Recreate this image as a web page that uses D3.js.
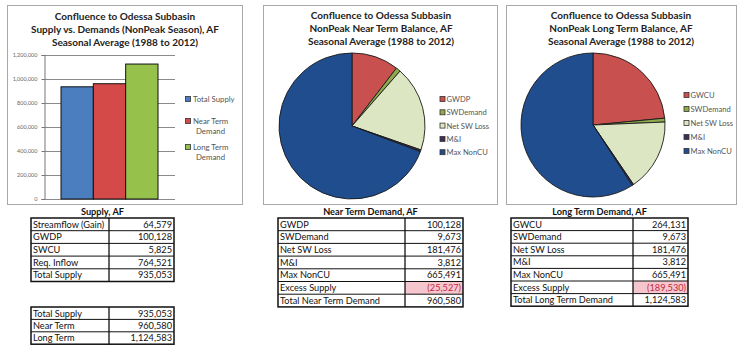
<!DOCTYPE html>
<html>
<head>
<meta charset="utf-8">
<script src="https://cdn.jsdelivr.net/npm/d3@7/dist/d3.min.js"></script>
<style>
  html, body { margin: 0; padding: 0; background: #fff; }
  svg { display: block; font-family: Lato, "Open Sans", sans-serif; }
</style>
</head>
<body>
<svg id="chart" width="740" height="355"></svg>
<script>
// Supply vs. demand bars
const barCategories = ["Total Supply", "Near Term Demand", "Long Term Demand"];
const barValues = [935053, 960580, 1124583];
const barColors = ["#4a7ebf", "#d44a48", "#96c24c"];
const yTicks = [0, 200000, 400000, 600000, 800000, 1000000, 1200000];

// Near term balance pie
const nearLabels = ["GWDP", "SWDemand", "Net SW Loss", "M&I", "Max NonCU"];
const nearValues = [100128, 9673, 181476, 3812, 665491];

// Long term balance pie
const longLabels = ["GWCU", "SWDemand", "Net SW Loss", "M&I", "Max NonCU"];
const longValues = [264131, 9673, 181476, 3812, 665491];

const pieColors = ["#c8504e", "#8faa4c", "#dde6c2", "#3d2f55", "#1f4d8e"];

// Tables
const supplyLabels = ["Streamflow (Gain)", "GWDP", "SWCU", "Req. Inflow", "Total Supply"];
const supplyValues = [64579, 100128, 5825, 764521, 935053];

const summaryLabels = ["Total Supply", "Near Term", "Long Term"];
const summaryValues = [935053, 960580, 1124583];

const nearTableLabels = ["GWDP", "SWDemand", "Net SW Loss", "M&I", "Max NonCU", "Excess Supply", "Total Near Term Demand"];
const nearTableValues = [100128, 9673, 181476, 3812, 665491, -25527, 960580];

const longTableLabels = ["GWCU", "SWDemand", "Net SW Loss", "M&I", "Max NonCU", "Excess Supply", "Total Long Term Demand"];
const longTableValues = [264131, 9673, 181476, 3812, 665491, -189530, 1124583];

const svg = d3.select("#chart");
const fmt = d3.format(",");
const fmtAcct = v => v < 0 ? "(" + fmt(-v) + ")" : fmt(v);

function frame(x0, y0, x1, y1) {
  svg.append("rect")
    .attr("x", x0 + 0.5).attr("y", y0 + 0.5)
    .attr("width", x1 - x0).attr("height", y1 - y0)
    .attr("fill", "#fff").attr("stroke", "#a9a9a9").attr("stroke-width", 1);
}

function titles(cx, lines, ys) {
  lines.forEach((t, i) => {
    svg.append("text")
      .attr("x", cx).attr("y", ys[i])
      .attr("text-anchor", "middle")
      .attr("font-size", 10).attr("font-weight", 700)
      .attr("fill", "#222")
      .text(t);
  });
}

// ---------- Bar chart ----------
frame(7, 5, 242, 204);
titles(125, ["Confluence to Odessa Subbasin", "Supply vs. Demands (NonPeak Season), AF", "Seasonal Average (1988 to 2012)"], [20, 33, 46]);

const plot = { left: 44, right: 175, top: 55, bottom: 199 };
const y = d3.scaleLinear().domain([0, 1200000]).range([plot.bottom, plot.top]);
const x = d3.scaleBand().domain(barCategories).range([61, 158]).padding(0);

const gBar = svg.append("g");
gBar.selectAll("line.grid").data(yTicks).join("line")
  .attr("class", "grid")
  .attr("x1", plot.left).attr("x2", plot.right)
  .attr("y1", d => Math.round(y(d)) + 0.5).attr("y2", d => Math.round(y(d)) + 0.5)
  .attr("stroke", "#8a8a8a").attr("stroke-width", 1);

const yAxis = d3.axisLeft(y).tickValues(yTicks).tickFormat(fmt).tickSize(3).tickPadding(4);
const ga = gBar.append("g").attr("transform", `translate(${plot.left + 0.5},0)`).call(yAxis);
ga.select(".domain").attr("stroke", "#777");
ga.selectAll(".tick line").attr("stroke", "#777");
ga.selectAll(".tick text").attr("font-size", 5.5).attr("fill", "#666").attr("font-family", "Lato, sans-serif");

gBar.selectAll("rect.bar").data(barValues).join("rect")
  .attr("class", "bar")
  .attr("x", (d, i) => x(barCategories[i]))
  .attr("width", x.bandwidth())
  .attr("y", d => y(d))
  .attr("height", d => y(0) - y(d))
  .attr("fill", (d, i) => barColors[i])
  .attr("stroke", "#111").attr("stroke-width", 1);

// bar legend
const barLegend = [
  { lines: ["Total Supply"], y: 99 },
  { lines: ["Near Term", "Demand"], y: 121 },
  { lines: ["Long Term", "Demand"], y: 147 }
];
barLegend.forEach((d, i) => {
  svg.append("rect")
    .attr("x", 185.5).attr("y", d.y - 2.5).attr("width", 5).attr("height", 5)
    .attr("fill", barColors[i]).attr("stroke", "#333").attr("stroke-width", 0.8);
  d.lines.forEach((t, j) => {
    svg.append("text")
      .attr("x", j === 0 ? 193 : 196).attr("y", d.y + 3 + j * 10)
      .attr("font-size", 7.8).attr("fill", "#555")
      .text(t);
  });
});

// ---------- Pie charts ----------
function pieChart(cx, cy, r, values, labels, legendX, legendY, legendStep) {
  const pie = d3.pie().sort(null).value(d => d);
  const arc = d3.arc().innerRadius(0).outerRadius(r);
  const g = svg.append("g").attr("transform", `translate(${cx},${cy})`);
  g.selectAll("path").data(pie(values)).join("path")
    .attr("d", arc)
    .attr("fill", (d, i) => pieColors[i])
    .attr("stroke", "#1a1a1a").attr("stroke-width", 0.9);
  labels.forEach((t, i) => {
    const ly = legendY + i * legendStep;
    svg.append("rect")
      .attr("x", legendX).attr("y", ly - 2.5).attr("width", 5).attr("height", 5)
      .attr("fill", pieColors[i]).attr("stroke", "#333").attr("stroke-width", 0.8);
    svg.append("text")
      .attr("x", legendX + 6.5).attr("y", ly + 3)
      .attr("font-size", 7.6).attr("fill", "#555")
      .text(t);
  });
}

frame(263, 5, 497, 204);
titles(381, ["Confluence to Odessa Subbasin", "NonPeak Near Term Balance, AF", "Seasonal Average (1988 to 2012)"], [19, 32, 45]);
pieChart(352, 126, 73, nearValues, nearLabels, 440, 99, 13.3);

frame(506, 5, 736, 204);
titles(621, ["Confluence to Odessa Subbasin", "NonPeak Long Term Balance, AF", "Seasonal Average (1988 to 2012)"], [19, 32, 45]);
pieChart(593, 125, 72, longValues, longLabels, 684, 95, 14);

// ---------- Tables ----------
function table(x0, xDiv, x1, yTop, rowH, labels, values, title, highlight) {
  const g = svg.append("g");
  const n = labels.length;
  if (title) {
    g.append("text")
      .attr("x", (x0 + x1) / 2).attr("y", yTop - 3)
      .attr("text-anchor", "middle")
      .attr("font-size", 9.2).attr("font-weight", 700).attr("fill", "#111")
      .text(title);
  }
  if (highlight != null) {
    g.append("rect")
      .attr("x", xDiv).attr("y", yTop + highlight * rowH)
      .attr("width", x1 - xDiv).attr("height", rowH)
      .attr("fill", "#f6c6cf");
  }
  d3.range(1, n).forEach(i => {
    g.append("line")
      .attr("x1", x0).attr("x2", x1)
      .attr("y1", yTop + i * rowH).attr("y2", yTop + i * rowH)
      .attr("stroke", "#111").attr("stroke-width", 1);
  });
  g.append("line")
    .attr("x1", xDiv).attr("x2", xDiv)
    .attr("y1", yTop).attr("y2", yTop + n * rowH)
    .attr("stroke", "#111").attr("stroke-width", 1.3);
  g.append("rect")
    .attr("x", x0).attr("y", yTop)
    .attr("width", x1 - x0).attr("height", n * rowH)
    .attr("fill", "none").attr("stroke", "#111").attr("stroke-width", 1.5);
  labels.forEach((t, i) => {
    const by = yTop + i * rowH + rowH / 2 + 3.3;
    g.append("text")
      .attr("x", x0 + 2).attr("y", by)
      .attr("font-size", 9.2).attr("fill", "#111")
      .text(t);
    g.append("text")
      .attr("x", x1 - 2).attr("y", by)
      .attr("text-anchor", "end")
      .attr("font-size", 9.2)
      .attr("fill", i === highlight ? "#c0283e" : "#111")
      .text(fmtAcct(values[i]));
  });
}

table(31, 109, 174, 218, 12.7, supplyLabels, supplyValues, "Supply, AF", null);
table(31, 109, 174, 307, 12.4, summaryLabels, summaryValues, null, null);
table(278, 405, 463, 218, 12.7, nearTableLabels, nearTableValues, "Near Term Demand, AF", 5);
table(511, 633, 688, 218, 12.6, longTableLabels, longTableValues, "Long Term Demand, AF", 5);
</script>
</body>
</html>
